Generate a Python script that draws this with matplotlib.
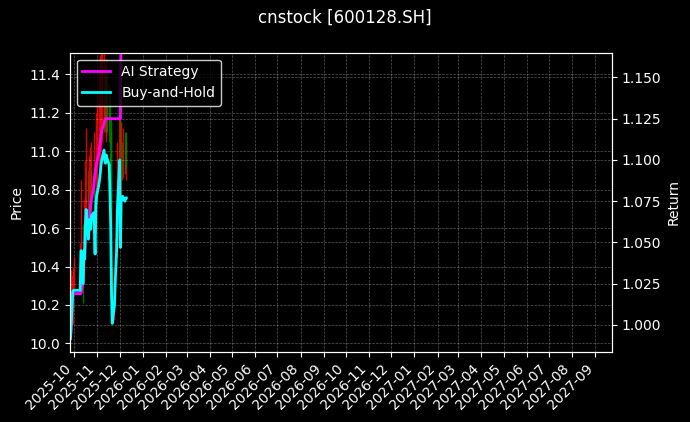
import matplotlib
matplotlib.use("Agg")
import matplotlib.pyplot as plt
import matplotlib.dates as mdates
import pandas as pd

# trading days shown (Oct 1-8 holiday)
dates = pd.to_datetime([
    "2025-09-26", "2025-09-29", "2025-09-30", "2025-10-09", "2025-10-10",
    "2025-10-13", "2025-10-14", "2025-10-15", "2025-10-16", "2025-10-17",
    "2025-10-20", "2025-10-21", "2025-10-22", "2025-10-23", "2025-10-24",
    "2025-10-27", "2025-10-28", "2025-10-29", "2025-10-30", "2025-10-31",
    "2025-11-03", "2025-11-04", "2025-11-05", "2025-11-06", "2025-11-07",
    "2025-11-10", "2025-11-11", "2025-11-12", "2025-11-13", "2025-11-14",
    "2025-11-17", "2025-11-18", "2025-11-19", "2025-11-20", "2025-11-21",
    "2025-11-24", "2025-11-25", "2025-11-26", "2025-11-27", "2025-11-28",
    "2025-12-01", "2025-12-02", "2025-12-03", "2025-12-04", "2025-12-05",
    "2025-12-08", "2025-12-09", "2025-12-10",
])

opens = [10.04, 10.12, 10.35, 10.32, 10.38, 10.55, 10.42, 10.60, 10.58, 10.75,
         10.85, 10.66, 10.74, 10.82, 10.72, 10.80, 10.86, 10.74, 10.60, 10.85,
         10.92, 10.98, 11.02, 11.06, 11.10, 11.15, 11.25, 11.12, 11.14, 11.22,
         11.20, 11.15, 10.98, 10.95, 10.32, 10.15, 10.26, 10.40, 10.50, 10.60,
         10.88, 11.15, 10.65, 10.95, 10.90, 10.96, 10.90, 10.95]
highs = [10.38, 10.40, 10.45, 10.52, 10.85, 10.62, 10.75, 10.70, 10.95, 11.12,
         10.90, 10.98, 11.02, 10.95, 11.05, 11.10, 10.92, 10.80, 11.20, 11.30,
         11.42, 11.48, 11.50, 11.52, 11.55, 11.55, 11.45, 11.40, 11.48, 11.42,
         11.35, 11.30, 11.10, 11.18, 10.40, 10.40, 10.55, 10.70, 10.85, 11.05,
         11.40, 11.20, 11.15, 11.05, 11.12, 11.10, 11.05, 11.10]
lows = [10.02, 10.10, 10.28, 10.30, 10.35, 10.21, 10.38, 10.50, 10.55, 10.70,
        10.62, 10.60, 10.70, 10.68, 10.70, 10.75, 10.65, 10.52, 10.58, 10.80,
        10.90, 10.95, 10.98, 11.00, 11.05, 11.10, 11.10, 11.05, 11.08, 11.10,
        11.05, 10.90, 10.70, 10.30, 10.10, 10.12, 10.22, 10.36, 10.45, 10.55,
        10.85, 10.58, 10.60, 10.85, 10.86, 10.88, 10.85, 10.92]
closes = [10.07, 10.35, 10.36, 10.36, 10.61, 10.40, 10.61, 10.56, 10.76, 10.86,
          10.68, 10.76, 10.80, 10.74, 10.82, 10.84, 10.74, 10.59, 10.88, 10.94,
          11.01, 11.04, 11.08, 11.13, 11.17, 11.23, 11.17, 11.14, 11.20, 11.18,
          11.13, 10.96, 10.76, 10.35, 10.16, 10.27, 10.40, 10.52, 10.62, 10.86,
          11.17, 10.63, 10.91, 10.92, 10.94, 10.91, 10.93, 10.93]

ai_strategy = [0.992, 1.019, 1.019, 1.019, 1.019, 1.026, 1.045, 1.040, 1.058, 1.066,
               1.060, 1.064, 1.068, 1.072, 1.076, 1.083, 1.088, 1.092, 1.095, 1.098,
               1.104, 1.108, 1.111, 1.115, 1.118, 1.122, 1.124, 1.125, 1.125, 1.125,
               1.125, 1.125, 1.125, 1.125, 1.125, 1.125, 1.125, 1.125, 1.125, 1.125,
               1.125, 1.125, 1.190, 1.190, 1.200, 1.195, 1.200, 1.200]
buy_hold = [0.992, 1.020, 1.021, 1.021, 1.045, 1.025, 1.045, 1.040, 1.060, 1.070,
            1.052, 1.060, 1.064, 1.058, 1.066, 1.068, 1.058, 1.043, 1.072, 1.078,
            1.085, 1.088, 1.092, 1.097, 1.100, 1.106, 1.100, 1.098, 1.103, 1.101,
            1.097, 1.080, 1.060, 1.020, 1.001, 1.012, 1.025, 1.036, 1.046, 1.070,
            1.100, 1.047, 1.075, 1.076, 1.078, 1.075, 1.077, 1.077]

plt.style.use("dark_background")
fig = plt.figure(figsize=(6.9, 4.22), dpi=100)
ax = fig.add_axes([0.1014, 0.1666, 0.7851, 0.7085])
ax2 = ax.twinx()

# candles
for d, o, h, l, c in zip(dates, opens, highs, lows, closes):
    col = "red" if c >= o else "green"
    ax.vlines(d, l, h, color=col, linewidth=1.0, alpha=0.85)
    ax.bar(d, abs(c - o), bottom=min(o, c), width=0.8, color=col, alpha=0.85)

ax2.plot(dates, ai_strategy, color="#ff00ff", linewidth=2, label="AI Strategy")
ax2.plot(dates, buy_hold, color="#00ffff", linewidth=2, label="Buy-and-Hold")

ax.set_xlim(pd.Timestamp("2025-09-25 06:00"), pd.Timestamp("2027-09-23"))
ax.set_ylim(9.957, 11.512)
ax2.set_ylim(0.9838, 1.165)

ax.xaxis.set_major_locator(mdates.MonthLocator())
ax.xaxis.set_major_formatter(mdates.DateFormatter("%Y-%m"))
plt.setp(ax.get_xticklabels(), rotation=45, ha="right")

ax.set_ylabel("Price")
ax2.set_ylabel("Return")
ax.grid(True, linestyle="--", linewidth=0.5, alpha=0.35)
ax2.grid(True, linestyle="--", linewidth=0.5, alpha=0.35)

ax2.legend(loc="upper left", facecolor="black", edgecolor="white")
fig.suptitle("cnstock [600128.SH]", fontsize=12)

plt.savefig("out.png", dpi=100)
